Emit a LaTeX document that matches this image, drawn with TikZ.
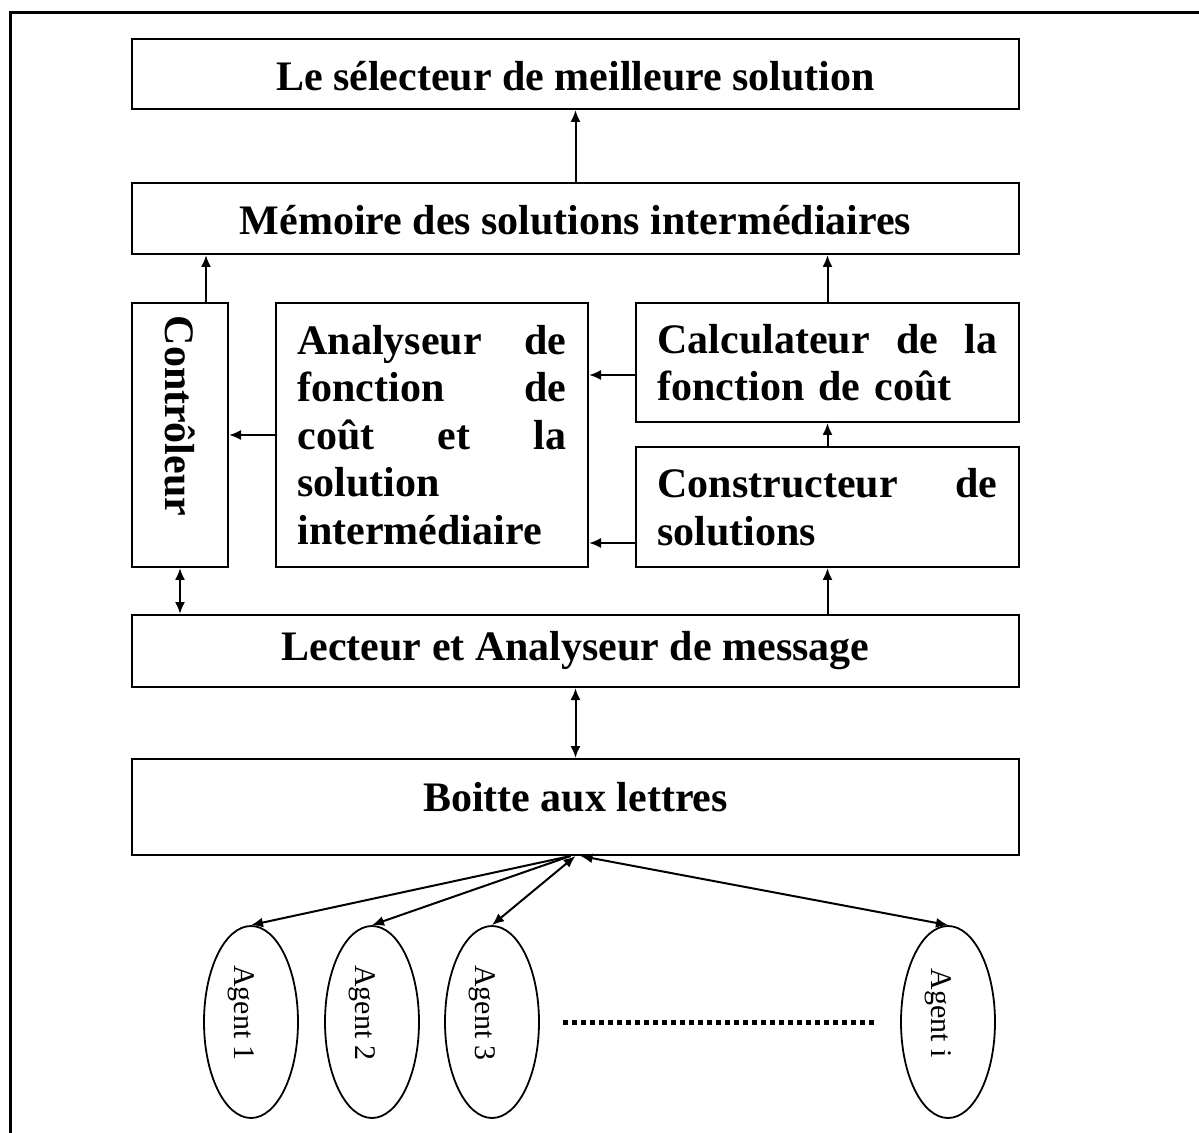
\documentclass[tikz,border=0pt]{standalone}
\usepackage{fontspec}
\setmainfont{Liberation Serif}
\usetikzlibrary{arrows.meta,fit,shapes.geometric}

\begin{document}
\begin{tikzpicture}[
  x=0.5pt, y=-0.5pt,
  box/.style={draw, line width=1pt, inner sep=0pt},
  big/.style={font=\fontsize{21}{23.75}\selectfont\bfseries, inner sep=0pt},
  para/.style={big, align=left},
  agent/.style={draw, ellipse, line width=0.9pt, minimum width=47pt, minimum height=96pt, inner sep=0pt},
  agtext/.style={font=\fontsize{15}{18}\selectfont, rotate=-90, inner sep=0pt},
  tip/.style={Latex[length=6pt,width=5pt]},
  arr/.style={line width=1pt, -{Latex[length=6pt,width=5pt]}},
  darr/.style={line width=1pt, {Latex[length=6pt,width=5pt]}-{Latex[length=6pt,width=5pt]}},
  dotline/.style={line width=2.5pt, dash pattern=on 2.5pt off 2pt}
]
\useasboundingbox (0,0) rectangle (1199,1133);

% frame (top and left edges)
\draw[line width=1.5pt] (10,1133) -- (10,13) -- (1199,13);

% upper chain
\node[box, fit={(132,39) (1019,109)}] (sel) {};
\node[big] (seltxt) at ([yshift=-1pt]sel.center) {Le sélecteur de meilleure solution};
\node[box, fit={(132,183) (1019,254)}] (mem) {};
\node[big] (memtxt) at ([yshift=-1pt]mem.center) {Mémoire des solutions intermédiaires};

% controller column
\node[box, fit={(132,303) (228,567)}] (ctl) {};
\node[big, rotate=-90] (ctltxt) at (180,416) {Contrôleur};

% analyser
\node[box, fit={(276,303) (588,567)}] (ana) {};
\node[para, text width=134.5pt] (anatxt) at (ana.center)
  {Analyseur\hfill de\\fonction\hfill de\\coût\hfill et\hfill la\\solution\\intermédiaire};

% cost calculator and solution builder
\node[box, fit={(636,303) (1019,422)}] (calc) {};
\node[para, text width=170pt] (calctxt) at (calc.center)
  {Calculateur\hfill de\hfill la\\fonction de coût};
\node[box, fit={(636,447) (1019,567)}] (cons) {};
\node[para, text width=170pt] (constxt) at (cons.center)
  {Constructeur\hfill de\\solutions};

% message reader and mailbox
\node[box, fit={(132,615) (1019,687)}] (lec) {};
\node[big] (lectxt) at (lec.center) {Lecteur et Analyseur de message};
\node[box, fit={(132,759) (1019,855)}] (boi) {};
\node[big] (boitxt) at ([yshift=5pt]boi.center) {Boitte aux lettres};

% agents
\node[agent] (ag1) at (251,1022) {};
\node[agent] (ag2) at (372,1022) {};
\node[agent] (ag3) at (492,1022) {};
\node[agent] (agi) at (948,1022) {};
\node[agtext] (ag1txt) at ([xshift=-5pt,yshift=4.5pt]ag1.center) {Agent 1};
\node[agtext] (ag2txt) at ([xshift=-5pt,yshift=4.5pt]ag2.center) {Agent 2};
\node[agtext] (ag3txt) at ([xshift=-5pt,yshift=4.5pt]ag3.center) {Agent 3};
\node[agtext] (agitxt) at ([xshift=-5pt,yshift=4.5pt]agi.center) {Agent i};

\coordinate (dotsA) at (563,1022);
\coordinate (dotsB) at (875,1022);
\draw[dotline] (dotsA) -- (dotsB);

% connectors
\draw[arr] (mem.north) -- (sel.south);
\draw[arr] ([xshift=-11.5pt]ctl.north east) -- ([xshift=-11.5pt]ctl.north east |- mem.south);
\draw[arr] (calc.north) -- (calc.north |- mem.south);
\draw[arr] (cons.north) -- (calc.south);
\draw[arr] (cons.south |- lec.north) -- (cons.south);
\draw[arr] (ana.west) -- (ana.west -| ctl.east);
\draw[arr] ([yshift=-6.25pt]calc.west) -- ([yshift=-6.25pt]calc.west -| ana.east);
\draw[arr] ([yshift=-18pt]cons.west) -- ([yshift=-18pt]cons.west -| ana.east);
\draw[darr] (ctl.south) -- (ctl.south |- lec.north);
\draw[darr] (lec.south) -- (boi.north);

\draw[arr] ([xshift=-2.5pt]boi.south) -- (ag1.north);
\draw[arr] ([xshift=-2.5pt]boi.south) -- (ag2.north);
\draw[darr] (boi.south) -- (ag3.north);
\draw[darr] ([xshift=2.5pt]boi.south) -- (agi.north);
\end{tikzpicture}
\end{document}
